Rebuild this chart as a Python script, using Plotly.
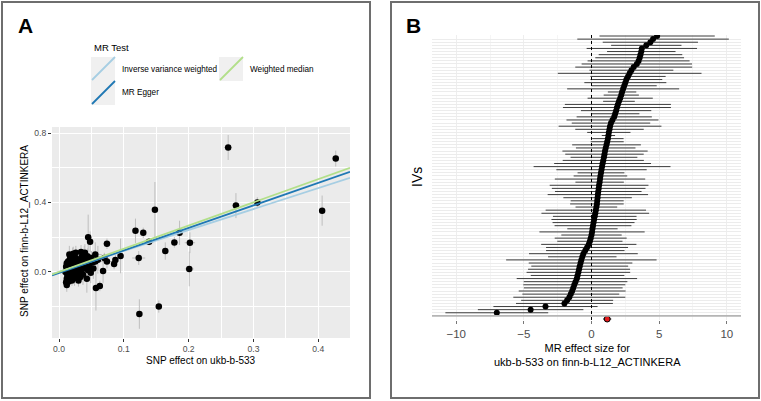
import plotly.graph_objects as go

W, H = 761, 401
FONT = "Liberation Sans, Arial, sans-serif"

# ---- panel A: SNP effects (exposure vs outcome) ----
snp_x = [0.261, 0.427, 0.273, 0.306, 0.406, 0.202, 0.201, 0.148, 0.118, 0.130,
         0.123, 0.139, 0.164, 0.178, 0.186, 0.124, 0.154, 0.057, 0.063, 0.045,
         0.048, 0.074, 0.095, 0.087, 0.085, 0.068, 0.074, 0.056, 0.034, 0.040,
         0.022, 0.056, 0.046, 0.040, 0.049, 0.012, 0.070, 0.060,
         0.010, 0.011, 0.012, 0.012, 0.013, 0.014, 0.014, 0.015, 0.015, 0.016,
         0.017, 0.017, 0.018, 0.019, 0.019, 0.020, 0.021, 0.021, 0.022, 0.023,
         0.024, 0.024, 0.025, 0.026, 0.027, 0.028, 0.029, 0.030, 0.031, 0.032,
         0.033, 0.034, 0.035, 0.036, 0.037, 0.038, 0.039, 0.041, 0.042, 0.043,
         0.044, 0.045, 0.047, 0.050, 0.052, 0.053, 0.011, 0.016, 0.026, 0.030]
snp_y = [0.717, 0.653, 0.382, 0.400, 0.353, 0.168, 0.017, 0.358, 0.237, 0.225,
         0.080, 0.173, 0.120, 0.170, 0.225, -0.243, -0.200, -0.093, -0.081, 0.200,
         0.173, 0.162, 0.092, 0.068, 0.045, 0.005, 0.060, 0.100, 0.115, 0.110,
         0.105, 0.060, 0.050, 0.020, -0.005, -0.075, 0.080, 0.070,
         0.000, 0.030, -0.040, 0.050, -0.020, 0.010, 0.060, -0.055, 0.040, -0.010,
         0.020, 0.075, -0.030, 0.050, 0.000, -0.050, 0.030, 0.090, -0.015, 0.060,
         0.010, -0.035, 0.040, 0.080, -0.020, 0.020, 0.055, -0.005, 0.070, 0.030,
         -0.030, 0.010, 0.085, 0.045, -0.015, 0.065, 0.100, 0.030, 0.075, -0.040,
         0.090, 0.010, 0.040, 0.080, 0.055, 0.020, -0.060, 0.100, 0.110, -0.050]
snp_se_x = [0.006, 0.005, 0.006, 0.006, 0.004, 0.008, 0.007, 0.004, 0.004, 0.004,
            0.010, 0.008, 0.005, 0.005, 0.004, 0.004, 0.004, 0.004, 0.004, 0.003,
            0.003, 0.006, 0.003, 0.004, 0.004, 0.003, 0.010, 0.010, 0.003, 0.003,
            0.003, 0.004, 0.003, 0.003, 0.003, 0.002, 0.004, 0.004,
            0.002, 0.002, 0.002, 0.003, 0.002, 0.002, 0.003, 0.002, 0.002, 0.003,
            0.002, 0.003, 0.002, 0.002, 0.003, 0.002, 0.002, 0.003, 0.002, 0.003,
            0.002, 0.003, 0.002, 0.004, 0.002, 0.003, 0.002, 0.003, 0.004, 0.002,
            0.003, 0.002, 0.004, 0.003, 0.002, 0.004, 0.003, 0.002, 0.004, 0.003,
            0.004, 0.003, 0.004, 0.005, 0.004, 0.003, 0.002, 0.002, 0.003, 0.003]
snp_se_y = [0.072, 0.046, 0.072, 0.030, 0.087, 0.060, 0.100, 0.160, 0.070, 0.030,
            0.040, 0.020, 0.050, 0.030, 0.070, 0.085, 0.035, 0.130, 0.030, 0.130,
            0.060, 0.030, 0.100, 0.030, 0.030, 0.070, 0.040, 0.070, 0.040, 0.050,
            0.040, 0.050, 0.050, 0.060, 0.060, 0.040, 0.030, 0.080,
            0.030, 0.025, 0.040, 0.030, 0.035, 0.020, 0.045, 0.030, 0.030, 0.050,
            0.025, 0.040, 0.030, 0.035, 0.060, 0.030, 0.025, 0.050, 0.040, 0.030,
            0.030, 0.045, 0.035, 0.050, 0.030, 0.040, 0.030, 0.070, 0.035, 0.030,
            0.040, 0.050, 0.030, 0.040, 0.060, 0.035, 0.050, 0.030, 0.040, 0.080,
            0.045, 0.035, 0.050, 0.040, 0.030, 0.060, 0.030, 0.050, 0.040, 0.035]

mr_methods = ["Inverse variance weighted", "MR Egger", "Weighted median"]
mr_slope = [1.207, 1.297, 1.336]
mr_intercept = [0.0, -0.006, 0.0]
mr_colors = ["#a6cee3", "#1f78b4", "#b2df8a"]

# ---- panel B: single SNP MR estimates, listed top row first ----
iv_b = [4.85, 4.55, 4.35, 4.05, 3.72, 3.68, 3.62, 3.56, 3.48, 3.35,
        3.12, 2.95, 2.82, 2.70, 2.58, 2.50, 2.42, 2.34, 2.26, 2.20,
        2.12, 2.03, 1.95, 1.88, 1.82, 1.75, 1.68, 1.55, 1.44, 1.37,
        1.33, 1.28, 1.25, 1.21, 1.16, 1.11, 1.05, 1.00, 0.96, 0.92,
        0.87, 0.82, 0.78, 0.74, 0.70, 0.66, 0.63, 0.60, 0.56, 0.53,
        0.50, 0.47, 0.45, 0.42, 0.40, 0.36, 0.32, 0.28, 0.24, 0.19,
        0.15, 0.11, 0.07, 0.04, 0.00, -0.06, -0.12, -0.20, -0.33, -0.46,
        -0.60, -0.68, -0.75, -0.81, -0.87, -0.92, -0.97, -1.03, -1.08, -1.18,
        -1.27, -1.35, -1.43, -1.53, -1.64, -1.80, -2.00, -3.40, -4.50, -7.00]
iv_ci = [4.26, 5.60, 3.52, 2.60, 4.08, 2.53, 3.09, 3.28, 3.77, 4.08,
         4.32, 3.10, 5.31, 2.78, 2.65, 3.03, 2.40, 4.14, 1.05, 1.30,
         2.41, 1.17, 3.92, 3.99, 2.60, 1.79, 2.78, 3.40, 2.90, 3.80,
         2.53, 1.60, 0.49, 1.16, 1.22, 2.54, 2.20, 3.15, 2.90, 2.47,
         3.00, 3.58, 5.06, 3.34, 1.73, 1.98, 3.34, 1.79, 3.65, 3.46,
         3.20, 3.71, 2.53, 1.96, 1.98, 1.54, 3.71, 3.98, 3.09, 3.15,
         3.03, 2.84, 1.86, 3.89, 2.23, 2.66, 2.41, 3.52, 3.03, 2.90,
         4.02, 2.53, 5.56, 3.83, 3.58, 3.77, 3.83, 3.46, 4.45, 3.83,
         3.77, 3.65, 3.95, 3.58, 4.14, 3.40, 3.58, 3.85, 3.90, 3.80]
ivw_b = 1.16
ivw_ci = 0.3

iv_pos = [i + 1 for i in range(len(iv_b), 0, -1)]


def px(x, y):
    return x / W, 1 - y / H


fig = go.Figure()

# panel A
fig.add_trace(go.Scatter(
    x=snp_x, y=snp_y, mode="markers",
    marker=dict(color="black", size=6.5),
    error_x=dict(type="data", array=snp_se_x, color="#bebebe", thickness=1, width=0),
    error_y=dict(type="data", array=snp_se_y, color="#bebebe", thickness=1, width=0),
    xaxis="x", yaxis="y", showlegend=False, hoverinfo="skip"))

xa_range = [-0.0108, 0.449]
for name, s, b0, c in zip(mr_methods, mr_slope, mr_intercept, mr_colors):
    fig.add_trace(go.Scatter(
        x=xa_range, y=[b0 + s * v for v in xa_range], mode="lines",
        line=dict(color=c, width=1.8), name=name,
        xaxis="x", yaxis="y", showlegend=False))

# panel B
fig.add_trace(go.Scatter(
    x=iv_b, y=iv_pos, mode="markers",
    marker=dict(color="black", size=6),
    error_x=dict(type="data", array=iv_ci, color="#3c3c3c", thickness=1, width=0),
    xaxis="x2", yaxis="y2", showlegend=False, hoverinfo="skip"))
fig.add_trace(go.Scatter(
    x=[ivw_b], y=[0], mode="markers", cliponaxis=False,
    marker=dict(color="#e31a1c", size=6, line=dict(color="black", width=1)),
    error_x=dict(type="data", array=[ivw_ci], color="black", thickness=1, width=0),
    xaxis="x2", yaxis="y2", showlegend=False))

shapes = [
    dict(type="rect", xref="x domain", yref="y domain", x0=0, x1=1, y0=0, y1=1,
         fillcolor="#ebebeb", line=dict(width=0), layer="below"),
    dict(type="line", xref="x2", yref="y2 domain", x0=0, x1=0, y0=0, y1=1,
         line=dict(color="black", width=1, dash="dot")),
    dict(type="line", xref="x2 domain", yref="y2", x0=0, x1=1, y0=1, y1=1,
         line=dict(color="#b5b5b5", width=1.8)),
]
# panel frames
for x0, x1 in [(2, 370), (391, 759)]:
    a0, b0 = px(x0, 398)
    a1, b1 = px(x1, 2)
    shapes.append(dict(type="rect", xref="paper", yref="paper", x0=a0, x1=a1, y0=b0, y1=b1,
                       line=dict(color="#6e6e6e", width=2)))

# legend keys for panel A
keys = [(91, 57, mr_colors[0]), (91, 81, mr_colors[1]), (219, 57, mr_colors[2])]
for kx, ky, c in keys:
    a0, b0 = px(kx, ky + 24)
    a1, b1 = px(kx + 24, ky)
    shapes.append(dict(type="rect", xref="paper", yref="paper", x0=a0, x1=a1, y0=b0, y1=b1,
                       fillcolor="#f0f0f0", line=dict(width=0)))
    l0, m0 = px(kx + 1, ky + 23)
    l1, m1 = px(kx + 24, ky)
    shapes.append(dict(type="line", xref="paper", yref="paper", x0=l0, x1=l1, y0=m0, y1=m1,
                       line=dict(color=c, width=1.8)))


def note(text, x, y, size, **kw):
    xp, yp = px(x, y)
    d = dict(text=text, x=xp, y=yp, xref="paper", yref="paper", showarrow=False,
             font=dict(family=FONT, size=size, color=kw.pop("color", "black")),
             xanchor=kw.pop("xanchor", "center"), yanchor="middle")
    d.update(kw)
    return d


annotations = [
    note("<b>A</b>", 25.5, 25, 21),
    note("<b>B</b>", 413.5, 25, 21),
    note("MR Test", 92, 48, 9.5, xanchor="left"),
    note(mr_methods[0], 120, 69, 8.2, xanchor="left"),
    note(mr_methods[1], 120, 92, 8.2, xanchor="left"),
    note(mr_methods[2], 248, 69, 8.2, xanchor="left"),
    note("SNP effect on ukb-b-533", 201, 360, 10),
    note("SNP effect on finn-b-L12_ACTINKERA", 24, 231, 10, textangle=-90),
    note("IVs", 417, 177, 14, textangle=-90),
    note("MR effect size for<br>ukb-b-533 on finn-b-L12_ACTINKERA", 587, 355, 11),
]

fig.update_layout(
    width=W, height=H, margin=dict(l=0, r=0, t=0, b=0),
    paper_bgcolor="white", plot_bgcolor="white",
    font=dict(family=FONT),
    shapes=shapes, annotations=annotations,
    xaxis=dict(domain=[52 / W, 350 / W], range=xa_range, anchor="y",
               tick0=0, dtick=0.1, tickformat=".1f",
               showgrid=True, gridcolor="white", gridwidth=1.2,
               minor=dict(tick0=0.05, dtick=0.1, showgrid=True, gridcolor="white", gridwidth=0.5),
               ticks="outside", ticklen=3, tickcolor="#333333",
               tickfont=dict(size=8.6, color="#4d4d4d"),
               zeroline=False, showline=False),
    yaxis=dict(domain=[1 - 338 / H, 1 - 127 / H], range=[-0.381, 0.835], anchor="x",
               tick0=0, dtick=0.4, tickformat=".1f",
               showgrid=True, gridcolor="white", gridwidth=1.2,
               minor=dict(tick0=0.2, dtick=0.4, showgrid=True, gridcolor="white", gridwidth=0.5),
               ticks="outside", ticklen=3, tickcolor="#333333",
               tickfont=dict(size=8.6, color="#4d4d4d"),
               zeroline=False, showline=False),
    xaxis2=dict(domain=[432 / W, 741 / W], range=[-11.79, 11.05], anchor="y2",
                tick0=0, dtick=5,
                showgrid=True, gridcolor="#eeeeee", gridwidth=1,
                minor=dict(dtick=2.5, showgrid=True, gridcolor="#f5f5f5", gridwidth=0.5),
                ticks="outside", ticklen=3, tickcolor="#777777",
                tickfont=dict(size=11.5, color="#4d4d4d"),
                zeroline=False, showline=False),
    yaxis2=dict(domain=[1 - 320 / H, 1 - 35 / H], range=[-0.32, 91.32], anchor="x2",
                tick0=0, dtick=1, showticklabels=False, ticks="",
                showgrid=True, gridcolor="#ececec", gridwidth=0.6,
                zeroline=False, showline=False),
)

# drop the browser's default body margin so the figure sits at the page corner
fig.write_html("out.html", config={"displayModeBar": False},
               post_script="document.body.style.margin='0';")
